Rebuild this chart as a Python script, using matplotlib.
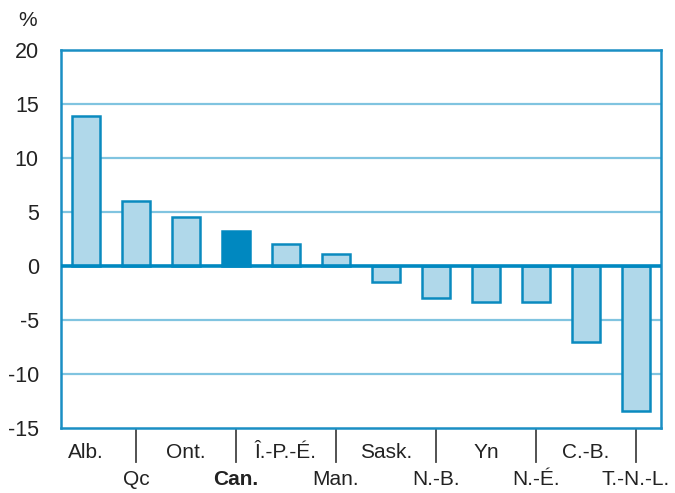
import matplotlib
matplotlib.use("Agg")
import matplotlib.pyplot as plt
from matplotlib import font_manager

provinces = ['Alb.', 'Qc', 'Ont.', 'Can.', 'Î.-P.-É.', 'Man.', 'Sask.', 'N.-B.', 'Yn', 'N.-É.', 'C.-B.', 'T.-N.-L.']
values = [13.9, 6.0, 4.5, 3.25, 2.0, 1.1, -1.5, -3.0, -3.3, -3.3, -7.0, -13.4]
y_ticks = [20, 15, 10, 5, 0, -5, -10, -15]

names = {f.name for f in font_manager.fontManager.ttflist}
font = 'Liberation Sans Narrow' if 'Liberation Sans Narrow' in names else 'Liberation Sans'
plt.rcParams['font.family'] = [font, 'DejaVu Sans']

light = '#b0d8ea'
edge = '#0a8abf'
dark = '#0088c0'
grid = '#80c4e0'
txt = '#222222'

fig = plt.figure(figsize=(6.75, 4.93), dpi=100)
ax = fig.add_axes([61 / 675, 1 - 428 / 493, 600 / 675, 378 / 493])

x = list(range(len(provinces)))
fills = [dark if p == 'Can.' else light for p in provinces]
edges = [dark if p == 'Can.' else edge for p in provinces]
ax.bar(x, values, width=0.56, color=fills, edgecolor=edges, linewidth=1.8, zorder=3)

ax.set_xlim(-0.5, len(provinces) - 0.5)
ax.set_ylim(-15, 20)
ax.set_yticks(y_ticks)
ax.set_yticklabels([str(v) for v in y_ticks], fontsize=15.5, color=txt)
for v in y_ticks:
    if v not in (20, -15, 0):
        ax.axhline(v, color=grid, linewidth=1.6, zorder=1)
ax.axhline(0, color=dark, linewidth=2.6, zorder=4)

for s in ax.spines.values():
    s.set_color('#1a8fc4')
    s.set_linewidth(1.8)
ax.tick_params(axis='y', length=0, pad=16)
ax.tick_params(axis='x', length=0)
ax.set_xticks([])

# alternating labels with separators at the lower-row positions
for i, p in enumerate(provinces):
    if i % 2 == 0:
        ax.text(i, -0.04, p, transform=ax.get_xaxis_transform(), ha='center', va='top',
                fontsize=15, color=txt)
    else:
        ax.plot([i, i], [-0.003, -0.09], transform=ax.get_xaxis_transform(),
                color='#444444', linewidth=1.3, clip_on=False)
        ax.text(i, -0.11, p, transform=ax.get_xaxis_transform(), ha='center', va='top',
                fontsize=15, color=txt,
                fontweight='bold' if p == 'Can.' else 'normal')

fig.text(28 / 675, 1 - 21 / 493, '%', ha='center', va='center', fontsize=15, color=txt)

fig.savefig('out.png', dpi=100)
